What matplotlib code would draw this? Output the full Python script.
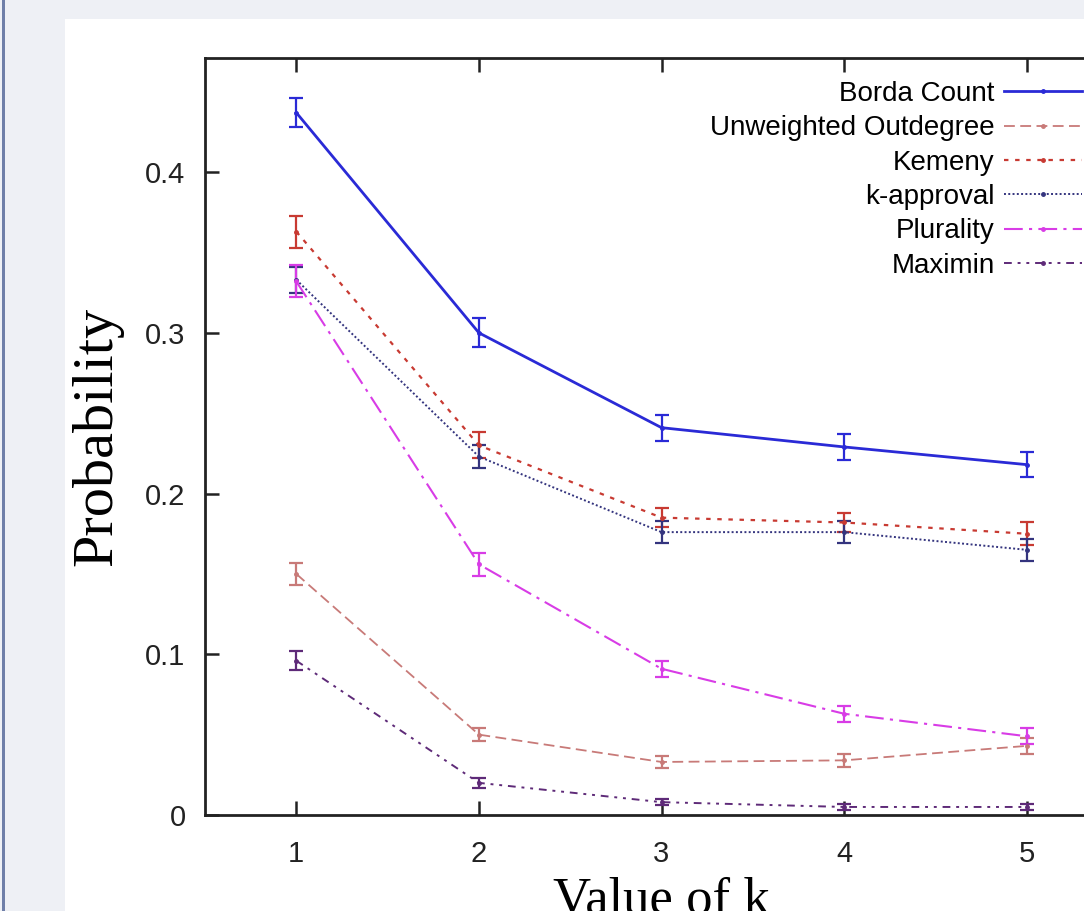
import matplotlib.pyplot as plt
from matplotlib.patches import Rectangle

## Data
k_values = [1, 2, 3, 4, 5]

borda = [0.437, 0.300, 0.241, 0.229, 0.218]
borda_err = [0.009, 0.009, 0.008, 0.008, 0.008]

outdegree = [0.150, 0.050, 0.033, 0.034, 0.043]
outdegree_err = [0.007, 0.004, 0.004, 0.004, 0.005]

kemeny = [0.363, 0.230, 0.185, 0.182, 0.175]
kemeny_err = [0.010, 0.008, 0.006, 0.006, 0.007]

k_approval = [0.333, 0.223, 0.176, 0.176, 0.165]
k_approval_err = [0.008, 0.007, 0.007, 0.007, 0.007]

plurality = [0.332, 0.156, 0.091, 0.063, 0.049]
plurality_err = [0.010, 0.007, 0.005, 0.005, 0.005]

maximin = [0.096, 0.020, 0.008, 0.005, 0.005]
maximin_err = [0.006, 0.003, 0.002, 0.002, 0.002]

labels = ["Borda Count", "Unweighted Outdegree", "Kemeny", "k-approval", "Plurality", "Maximin"]
y_ticks = [0, 0.1, 0.2, 0.3, 0.4]
y_tick_labels = ["0", "0.1", "0.2", "0.3", "0.4"]

## Figure and slide-like background
fig = plt.figure(figsize=(10.84, 9.11), dpi=100, facecolor="#eef0f5")
fig.add_artist(Rectangle((65 / 1084, 0), 1, 1 - 19 / 911, transform=fig.transFigure,
                         facecolor="white", edgecolor="none", zorder=0))
fig.add_artist(Rectangle((2 / 1084, 0), 3 / 1084, 1, transform=fig.transFigure,
                         facecolor="#6f7fa8", edgecolor="none", zorder=0))

# axes run past the right edge of the picture, like in the reference
ax = fig.add_axes([205 / 1084, 1 - 815 / 911, 913 / 1084, 757 / 911])
ax.set_facecolor("none")

series = [
    (borda, borda_err, "#2a2ad6", "-", 2.0),
    (outdegree, outdegree_err, "#c87a78", (0, (6, 3)), 1.3),
    (kemeny, kemeny_err, "#c83a32", (0, (2, 3)), 1.6),
    (k_approval, k_approval_err, "#34347e", (0, (1, 1.2)), 1.4),
    (plurality, plurality_err, "#d83ce6", (0, (9, 3, 1.5, 3)), 1.5),
    (maximin, maximin_err, "#5e2a78", (0, (4, 3, 1.5, 3, 1.5, 3)), 1.4),
]

handles = []
for (vals, errs, col, ls, lw), name in zip(series, labels):
    cont = ax.errorbar(k_values, vals, yerr=errs, color=col, linestyle=ls, linewidth=lw,
                       marker="o", markersize=2.5, capsize=5, elinewidth=1.6, capthick=1.6,
                       label=name, clip_on=False)
    handles.append(cont.lines[0])

ax.set_xlim(0.5, 5.5)
ax.set_ylim(0, 0.471)
ax.set_xticks(k_values)
ax.set_xticklabels([str(k) for k in k_values])
ax.set_yticks(y_ticks)
ax.set_yticklabels(y_tick_labels)

for spine in ax.spines.values():
    spine.set_linewidth(2)
    spine.set_color("#222222")

ax.tick_params(direction="in", length=10, width=1.8, top=True, right=True,
               labelsize=21, colors="#222222")
ax.tick_params(axis="x", pad=18)
ax.tick_params(axis="y", pad=14)
for t in ax.get_xticklabels() + ax.get_yticklabels():
    t.set_family("Liberation Sans")

ax.set_xlabel("Value of k", fontsize=38, family="Liberation Serif", labelpad=6)
ax.set_ylabel("Probability", fontsize=42, family="Liberation Serif", labelpad=16)

ax.legend(handles=handles, labels=labels, loc="upper right",
          bbox_to_anchor=(1082 / 1084, 1 - 81 / 911), bbox_transform=fig.transFigure,
          frameon=False, markerfirst=False, prop={"family": "Liberation Sans", "size": 20},
          handlelength=2.8, handletextpad=0.35, labelspacing=0.3, borderpad=0, borderaxespad=0)

fig.savefig("out.png", dpi=100, facecolor=fig.get_facecolor())
